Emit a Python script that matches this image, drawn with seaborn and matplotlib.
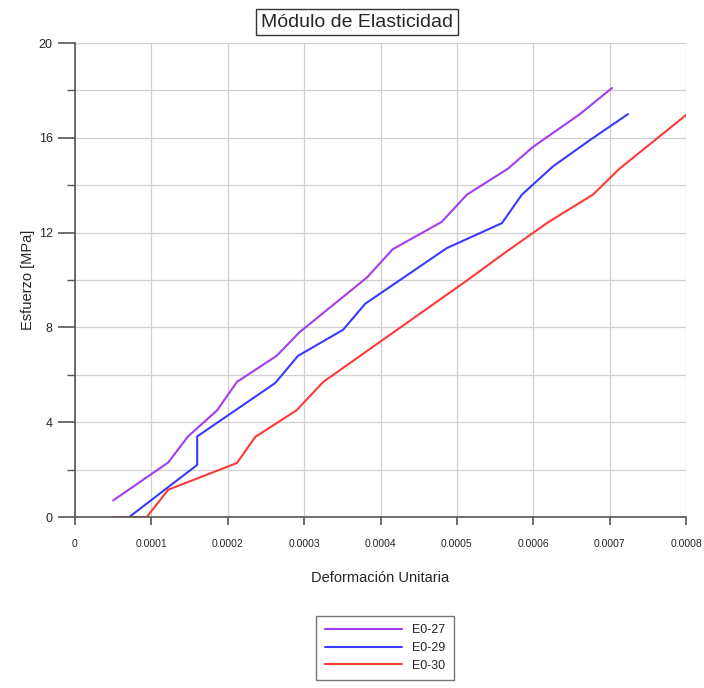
import numpy as np
import matplotlib
matplotlib.use("Agg")
import matplotlib.pyplot as plt
from matplotlib.ticker import MultipleLocator
import pandas as pd
import seaborn as sns

# strain / stress readings for each specimen
e27_strain = [0.00005, 0.000122, 0.000148, 0.000186, 0.000212, 0.000264, 0.000294,
              0.000382, 0.000416, 0.00048, 0.000513, 0.000567, 0.000599, 0.000661, 0.000703]
e27_stress = [0.7, 2.3, 3.4, 4.5, 5.7, 6.8, 7.8, 10.1, 11.3, 12.45, 13.6, 14.7, 15.6, 17.0, 18.1]

e29_strain = [0.000071, 0.00016, 0.00016, 0.000262, 0.000292, 0.000351, 0.00038,
              0.000487, 0.000559, 0.000585, 0.000626, 0.000674, 0.000724]
e29_stress = [0.0, 2.2, 3.4, 5.65, 6.8, 7.9, 9.0, 11.35, 12.4, 13.6, 14.8, 15.9, 17.0]

e30_strain = [0.00005, 0.000094, 0.000122, 0.000212, 0.000236, 0.00029, 0.000325,
              0.000514, 0.000565, 0.00062, 0.000678, 0.000713, 0.0008]
e30_stress = [0.0, 0.0, 1.15, 2.28, 3.38, 4.5, 5.7, 10.0, 11.2, 12.45, 13.6, 14.7, 16.96]

series = ["E0-27", "E0-29", "E0-30"]
colors = ["#a43cf0", "#3a3aff", "#ff3838"]

x_ticks = [0, 0.0001, 0.0002, 0.0003, 0.0004, 0.0005, 0.0006, 0.0007, 0.0008]
x_labels = ["0", "0.0001", "0.0002", "0.0003", "0.0004", "0.0005", "0.0006", "0.0007", "0.0008"]

df = pd.concat([
    pd.DataFrame({"strain": e27_strain, "stress": e27_stress, "serie": series[0]}),
    pd.DataFrame({"strain": e29_strain, "stress": e29_stress, "serie": series[1]}),
    pd.DataFrame({"strain": e30_strain, "stress": e30_stress, "serie": series[2]}),
], ignore_index=True)

sns.set_style("white")
plt.rcParams['font.family'] = ['Liberation Sans', 'DejaVu Sans']

fig = plt.figure(figsize=(7.04, 6.88), dpi=100)
ax = fig.add_axes([0.1065, 0.2485, 0.868, 0.689])

sns.lineplot(data=df, x="strain", y="stress", hue="serie", palette=dict(zip(series, colors)),
             sort=False, estimator=None, units="serie", lw=1.5, ax=ax, legend=False)

ax.set_xlim(0, 0.0008)
ax.set_ylim(0, 20)
ax.set_xticks(x_ticks)
ax.set_xticklabels(x_labels)
ax.yaxis.set_major_locator(MultipleLocator(4))
ax.yaxis.set_minor_locator(MultipleLocator(2))
ax.grid(True, which="both", color="#d0d0d0", lw=0.9)
ax.set_axisbelow(True)

for s in ["top", "right"]:
    ax.spines[s].set_visible(False)
for s in ["left", "bottom"]:
    ax.spines[s].set_color("#555555")
    ax.spines[s].set_linewidth(1.2)

ax.tick_params(axis="x", which="major", direction="out", length=6, width=1.2, color="#555555",
               labelsize=7.5, pad=10, bottom=True)
ax.tick_params(axis="y", which="major", direction="out", length=12, width=1.2, color="#555555",
               labelsize=9, pad=4, left=True)
ax.tick_params(axis="y", which="minor", direction="out", length=6, width=1.0, color="#555555", left=True)

ax.set_xlabel("Deformación Unitaria", fontsize=10.5, labelpad=16)
ax.set_ylabel("Esfuerzo [MPa]", fontsize=10.5, labelpad=3)

fig.text(0.507, 0.968, "Módulo de Elasticidad", ha="center", va="center", fontsize=14,
         bbox=dict(boxstyle="square,pad=0.25", fc="white", ec="#333333", lw=1))

handles = [plt.Line2D([], [], color=c, lw=1.5) for c in colors]
fig.legend(handles, series, loc="center", bbox_to_anchor=(0.547, 0.058),
           frameon=True, fancybox=False, edgecolor="#555555", fontsize=9,
           handlelength=6.2, labelspacing=0.45, borderpad=0.7)

fig.savefig("out.png", dpi=100)
